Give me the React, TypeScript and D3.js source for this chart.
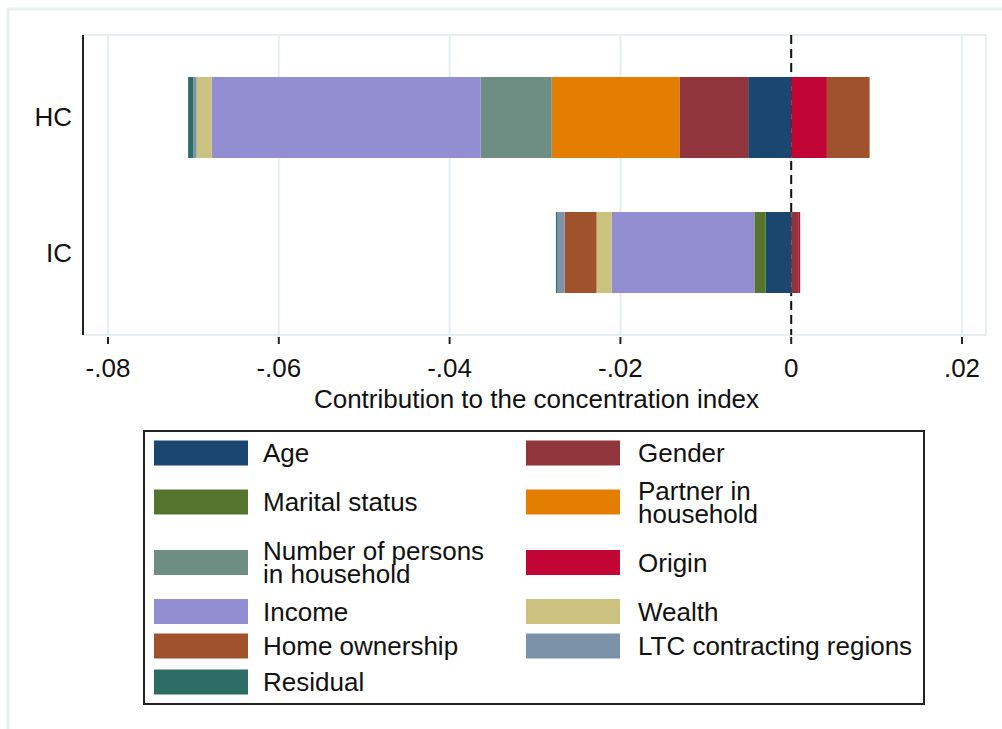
import React from "react";
import * as d3 from "d3";

// ---- Data ----
const categories = ["HC", "IC"];
const factors = [
  "Age",
  "Gender",
  "Marital status",
  "Partner in household",
  "Number of persons in household",
  "Origin",
  "Income",
  "Wealth",
  "Home ownership",
  "LTC contracting regions",
  "Residual",
];
const hcValues = [-0.00504, -0.00805, 0, -0.01495, -0.00832, 0.00418, -0.03148, -0.00179, 0.0050, -0.0004, -0.00059];
const icValues = [-0.00298, 0.00089, -0.00133, 0, 0, 0.00016, -0.01672, -0.00176, -0.00375, -0.00082, -0.00019];
const factorColors = [
  "#1a476f",
  "#90353b",
  "#55752f",
  "#e37e00",
  "#6e8e84",
  "#c10534",
  "#938dd2",
  "#cac27e",
  "#a0522d",
  "#7b92a8",
  "#2d6d66",
];
const legendLines = [
  ["Age"],
  ["Gender"],
  ["Marital status"],
  ["Partner in", "household"],
  ["Number of persons", "in household"],
  ["Origin"],
  ["Income"],
  ["Wealth"],
  ["Home ownership"],
  ["LTC contracting regions"],
  ["Residual"],
];
const xTicks = [-0.08, -0.06, -0.04, -0.02, 0, 0.02];
const xTitle = "Contribution to the concentration index";

// ---- Layout ----
const W = 1002;
const H = 729;
const plot = { left: 83, right: 986, top: 35, bottom: 335 };
const FONT = "'Liberation Sans', Arial, Helvetica, sans-serif";
const legendBox = { x: 144, y: 431, w: 780, h: 273 };
const legendRowCenters = [453, 502, 562.5, 611.5, 646, 682];
const legendCols = [{ sx: 154, tx: 263 }, { sx: 526, tx: 638 }];

export default function App() {
  const x = d3.scaleLinear().domain([-0.08, 0.02]).range([108, 962]);
  const y = d3
    .scaleBand<string>()
    .domain(categories)
    .range([plot.top, plot.bottom])
    .paddingInner(0.4)
    .paddingOuter(0.311);

  const table = categories.map((c, i) => {
    const vals = i === 0 ? hcValues : icValues;
    const row: any = { cat: c };
    factors.forEach((f, j) => (row[f] = vals[j]));
    return row;
  });
  const series = d3
    .stack<any>()
    .keys(factors)
    .offset(d3.stackOffsetDiverging)(table);

  const fmt = (v: number) => {
    if (Math.abs(v) < 1e-12) return "0";
    return d3.format(".2f")(v).replace("\u2212", "-").replace("0.", ".");
  };

  return (
    <svg
      width={W}
      height={H}
      style={{ position: "absolute", left: 0, top: 0, background: "#fff" }}
      fontFamily={FONT}
    >
      {/* outer graph region frame */}
      <rect x={8} y={9} width={1100} height={900} fill="none" stroke="#e8f0f2" strokeWidth={3} />

      {/* plot region border */}
      <rect
        x={plot.left}
        y={plot.top}
        width={plot.right - plot.left}
        height={plot.bottom - plot.top}
        fill="#fff"
        stroke="#e6eef1"
        strokeWidth={2}
      />
      {/* gridlines */}
      {xTicks.map((t) => (
        <line key={"g" + t} x1={x(t)} x2={x(t)} y1={plot.top} y2={plot.bottom} stroke="#e6eef1" strokeWidth={2} />
      ))}

      {/* zero reference line */}
      <line x1={x(0)} x2={x(0)} y1={plot.top} y2={plot.bottom} stroke="#111" strokeWidth={2} strokeDasharray="9,5" />

      {/* bars */}
      {series.map((s, si) => (
        <g key={s.key} fill={factorColors[si]}>
          {s.map((d, di) => {
            const x0 = x(Math.min(d[0], d[1]));
            const x1 = x(Math.max(d[0], d[1]));
            if (x1 - x0 <= 0) return null;
            return (
              <rect
                key={di}
                x={x0}
                y={y(categories[di])!}
                width={x1 - x0}
                height={y.bandwidth()}
              />
            );
          })}
        </g>
      ))}

      {/* y axis line */}
      <line x1={plot.left} x2={plot.left} y1={plot.top} y2={plot.bottom} stroke="#222" strokeWidth={2} />
      {categories.map((c) => (
        <text
          key={c}
          x={72}
          y={y(c)! + y.bandwidth() / 2}
          textAnchor="end"
          dominantBaseline="central"
          fontSize={26}
          fill="#111"
        >
          {c}
        </text>
      ))}

      {/* x axis ticks */}
      {xTicks.map((t) => (
        <g key={"t" + t}>
          <line x1={x(t)} x2={x(t)} y1={337} y2={344} stroke="#222" strokeWidth={2} />
          <text x={x(t)} y={368} textAnchor="middle" dominantBaseline="central" fontSize={26} fill="#111">
            {fmt(t)}
          </text>
        </g>
      ))}
      <text
        x={(plot.left + plot.right) / 2 + 2}
        y={399}
        textAnchor="middle"
        dominantBaseline="central"
        fontSize={26}
        fill="#111"
      >
        {xTitle}
      </text>

      {/* legend */}
      <rect
        x={legendBox.x}
        y={legendBox.y}
        width={legendBox.w}
        height={legendBox.h}
        fill="#fff"
        stroke="#222"
        strokeWidth={2}
      />
      {factors.map((f, i) => {
        const row = Math.floor(i / 2);
        const col = legendCols[i % 2];
        const cy = legendRowCenters[row];
        const lines = legendLines[i];
        const lh = 23;
        // baseline offset for 26px Liberation Sans approx 9px below centre
        const firstBase = cy - ((lines.length - 1) / 2) * lh + 9;
        return (
          <g key={"l" + f}>
            <rect x={col.sx} y={cy - 12.5} width={94} height={25} fill={factorColors[i]} />
            <text x={col.tx} y={firstBase} fontSize={26} fill="#111">
              {lines.map((ln, k) => (
                <tspan key={k} x={col.tx} dy={k === 0 ? 0 : lh}>
                  {ln}
                </tspan>
              ))}
            </text>
          </g>
        );
      })}
    </svg>
  );
}
